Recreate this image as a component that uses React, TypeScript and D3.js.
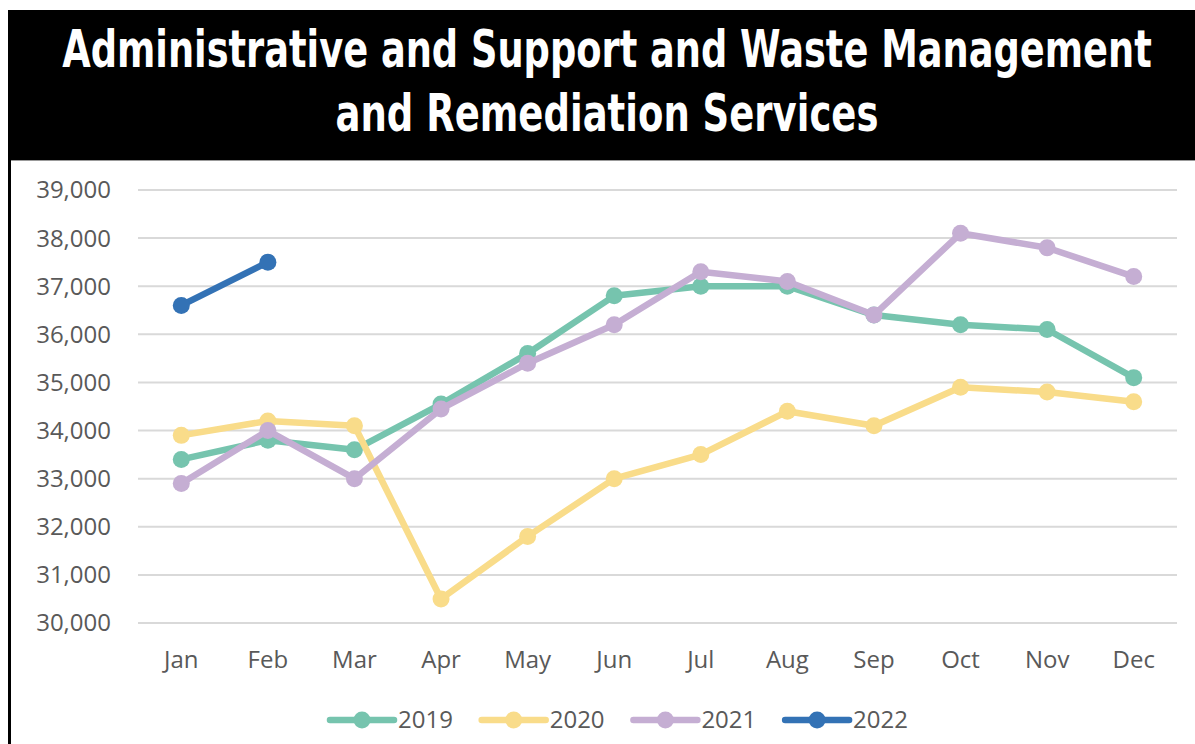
import React, { useRef, useEffect } from 'react';
import * as d3 from 'd3';

const months = ['Jan', 'Feb', 'Mar', 'Apr', 'May', 'Jun', 'Jul', 'Aug', 'Sep', 'Oct', 'Nov', 'Dec'];
const yTicks = [30000, 31000, 32000, 33000, 34000, 35000, 36000, 37000, 38000, 39000];

const values2019 = [33400, 33800, 33600, 34550, 35600, 36800, 37000, 37000, 36400, 36200, 36100, 35100];
const values2020 = [33900, 34200, 34100, 30500, 31800, 33000, 33500, 34400, 34100, 34900, 34800, 34600];
const values2021 = [32900, 34000, 33000, 34450, 35400, 36200, 37300, 37100, 36400, 38100, 37800, 37200];
const values2022 = [36600, 37500];

const seriesNames = ['2019', '2020', '2021', '2022'];
const seriesColors = ['#76c4ae', '#f9dc8a', '#c5aed3', '#3372b5'];

const titleLines = [
  'Administrative and Support and Waste Management',
  'and Remediation Services',
];

const W = 1195;
const H = 744;

const App: React.FC = () => {
  const svgRef = useRef<SVGSVGElement>(null);

  useEffect(() => {
    document.body.style.margin = '0';
    if (!svgRef.current) return;
    const svg = d3.select(svgRef.current);
    svg.selectAll('*').remove();

    svg.append('rect').attr('width', W).attr('height', H).attr('fill', '#fff');

    // title bar and left frame
    svg.append('rect')
      .attr('x', 8).attr('y', 10)
      .attr('width', W - 8).attr('height', 150)
      .attr('fill', '#000');
    svg.append('rect')
      .attr('x', 8).attr('y', 10)
      .attr('width', 3).attr('height', H - 10)
      .attr('fill', '#000');
    svg.append('line')
      .attr('x1', 11).attr('x2', W)
      .attr('y1', 160.5).attr('y2', 160.5)
      .attr('stroke', '#999').attr('stroke-width', 1);

    // condensed title: measure, then squeeze horizontally to the reference width
    const titleWidths = [1090, 543];
    const titleBase = [67, 131];
    svg.selectAll('.title')
      .data(titleLines)
      .enter()
      .append('text')
      .attr('class', 'title')
      .attr('text-anchor', 'middle')
      .attr('fill', '#fff')
      .style('font-family', '"DejaVu Sans Condensed", "Liberation Sans Narrow", sans-serif')
      .style('font-weight', 'bold')
      .style('font-size', '50px')
      .text(d => d)
      .each(function (_, i) {
        const len = (this as SVGTextElement).getComputedTextLength() || titleWidths[i];
        const sx = titleWidths[i] / len;
        d3.select(this).attr('transform', `translate(607,${titleBase[i]}) scale(${sx},1.04)`);
      });

    const margin = { left: 138, right: W - 1177, top: 190, bottom: H - 623 };

    const x = d3.scaleBand<string>()
      .domain(months)
      .range([margin.left, W - margin.right]);

    const y = d3.scaleLinear()
      .domain([30000, 39000])
      .range([H - margin.bottom, margin.top]);

    // grid
    svg.append('g')
      .selectAll('line')
      .data(yTicks)
      .enter()
      .append('line')
      .attr('x1', margin.left)
      .attr('x2', W - margin.right)
      .attr('y1', d => y(d))
      .attr('y2', d => y(d))
      .attr('stroke', '#d9d9d9')
      .attr('stroke-width', 2);

    const labelFont = '"Open Sans", "Noto Sans", sans-serif';

    // y labels
    svg.append('g')
      .selectAll('text')
      .data(yTicks)
      .enter()
      .append('text')
      .attr('x', 111)
      .attr('y', d => y(d))
      .attr('dy', '0.35em')
      .attr('text-anchor', 'end')
      .attr('fill', '#595959')
      .style('font-family', labelFont)
      .style('font-size', '24px')
      .text(d => d3.format(',')(d));

    // x labels
    svg.append('g')
      .selectAll('text')
      .data(months)
      .enter()
      .append('text')
      .attr('x', d => x(d)! + x.bandwidth() / 2)
      .attr('y', 668)
      .attr('text-anchor', 'middle')
      .attr('fill', '#595959')
      .style('font-family', labelFont)
      .style('font-size', '24px')
      .text(d => d);

    const allSeries = [values2019, values2020, values2021, values2022];
    const line = d3.line<number>()
      .x((_, i) => x(months[i])! + x.bandwidth() / 2)
      .y(d => y(d));

    allSeries.forEach((vals, si) => {
      const g = svg.append('g');
      g.append('path')
        .datum(vals)
        .attr('d', line)
        .attr('fill', 'none')
        .attr('stroke', seriesColors[si])
        .attr('stroke-width', 6.5)
        .attr('stroke-linejoin', 'round')
        .attr('stroke-linecap', 'round');
      g.selectAll('circle')
        .data(vals)
        .enter()
        .append('circle')
        .attr('cx', (_, i) => x(months[i])! + x.bandwidth() / 2)
        .attr('cy', d => y(d))
        .attr('r', 8.5)
        .attr('fill', seriesColors[si]);
    });

    // legend
    const legend = svg.append('g')
      .selectAll('g')
      .data(seriesNames)
      .enter()
      .append('g')
      .attr('transform', (_, i) => `translate(${330 + i * 151.7},720)`);
    legend.append('line')
      .attr('x1', 0).attr('x2', 64)
      .attr('stroke', (_, i) => seriesColors[i])
      .attr('stroke-width', 6.5)
      .attr('stroke-linecap', 'round');
    legend.append('circle')
      .attr('cx', 32)
      .attr('r', 8.5)
      .attr('fill', (_, i) => seriesColors[i]);
    legend.append('text')
      .attr('x', 68)
      .attr('dy', '0.35em')
      .attr('fill', '#595959')
      .style('font-family', labelFont)
      .style('font-size', '24px')
      .text(d => d);
  }, []);

  return <svg ref={svgRef} width={W} height={H} style={{ display: 'block' }} />;
};

export default App;
